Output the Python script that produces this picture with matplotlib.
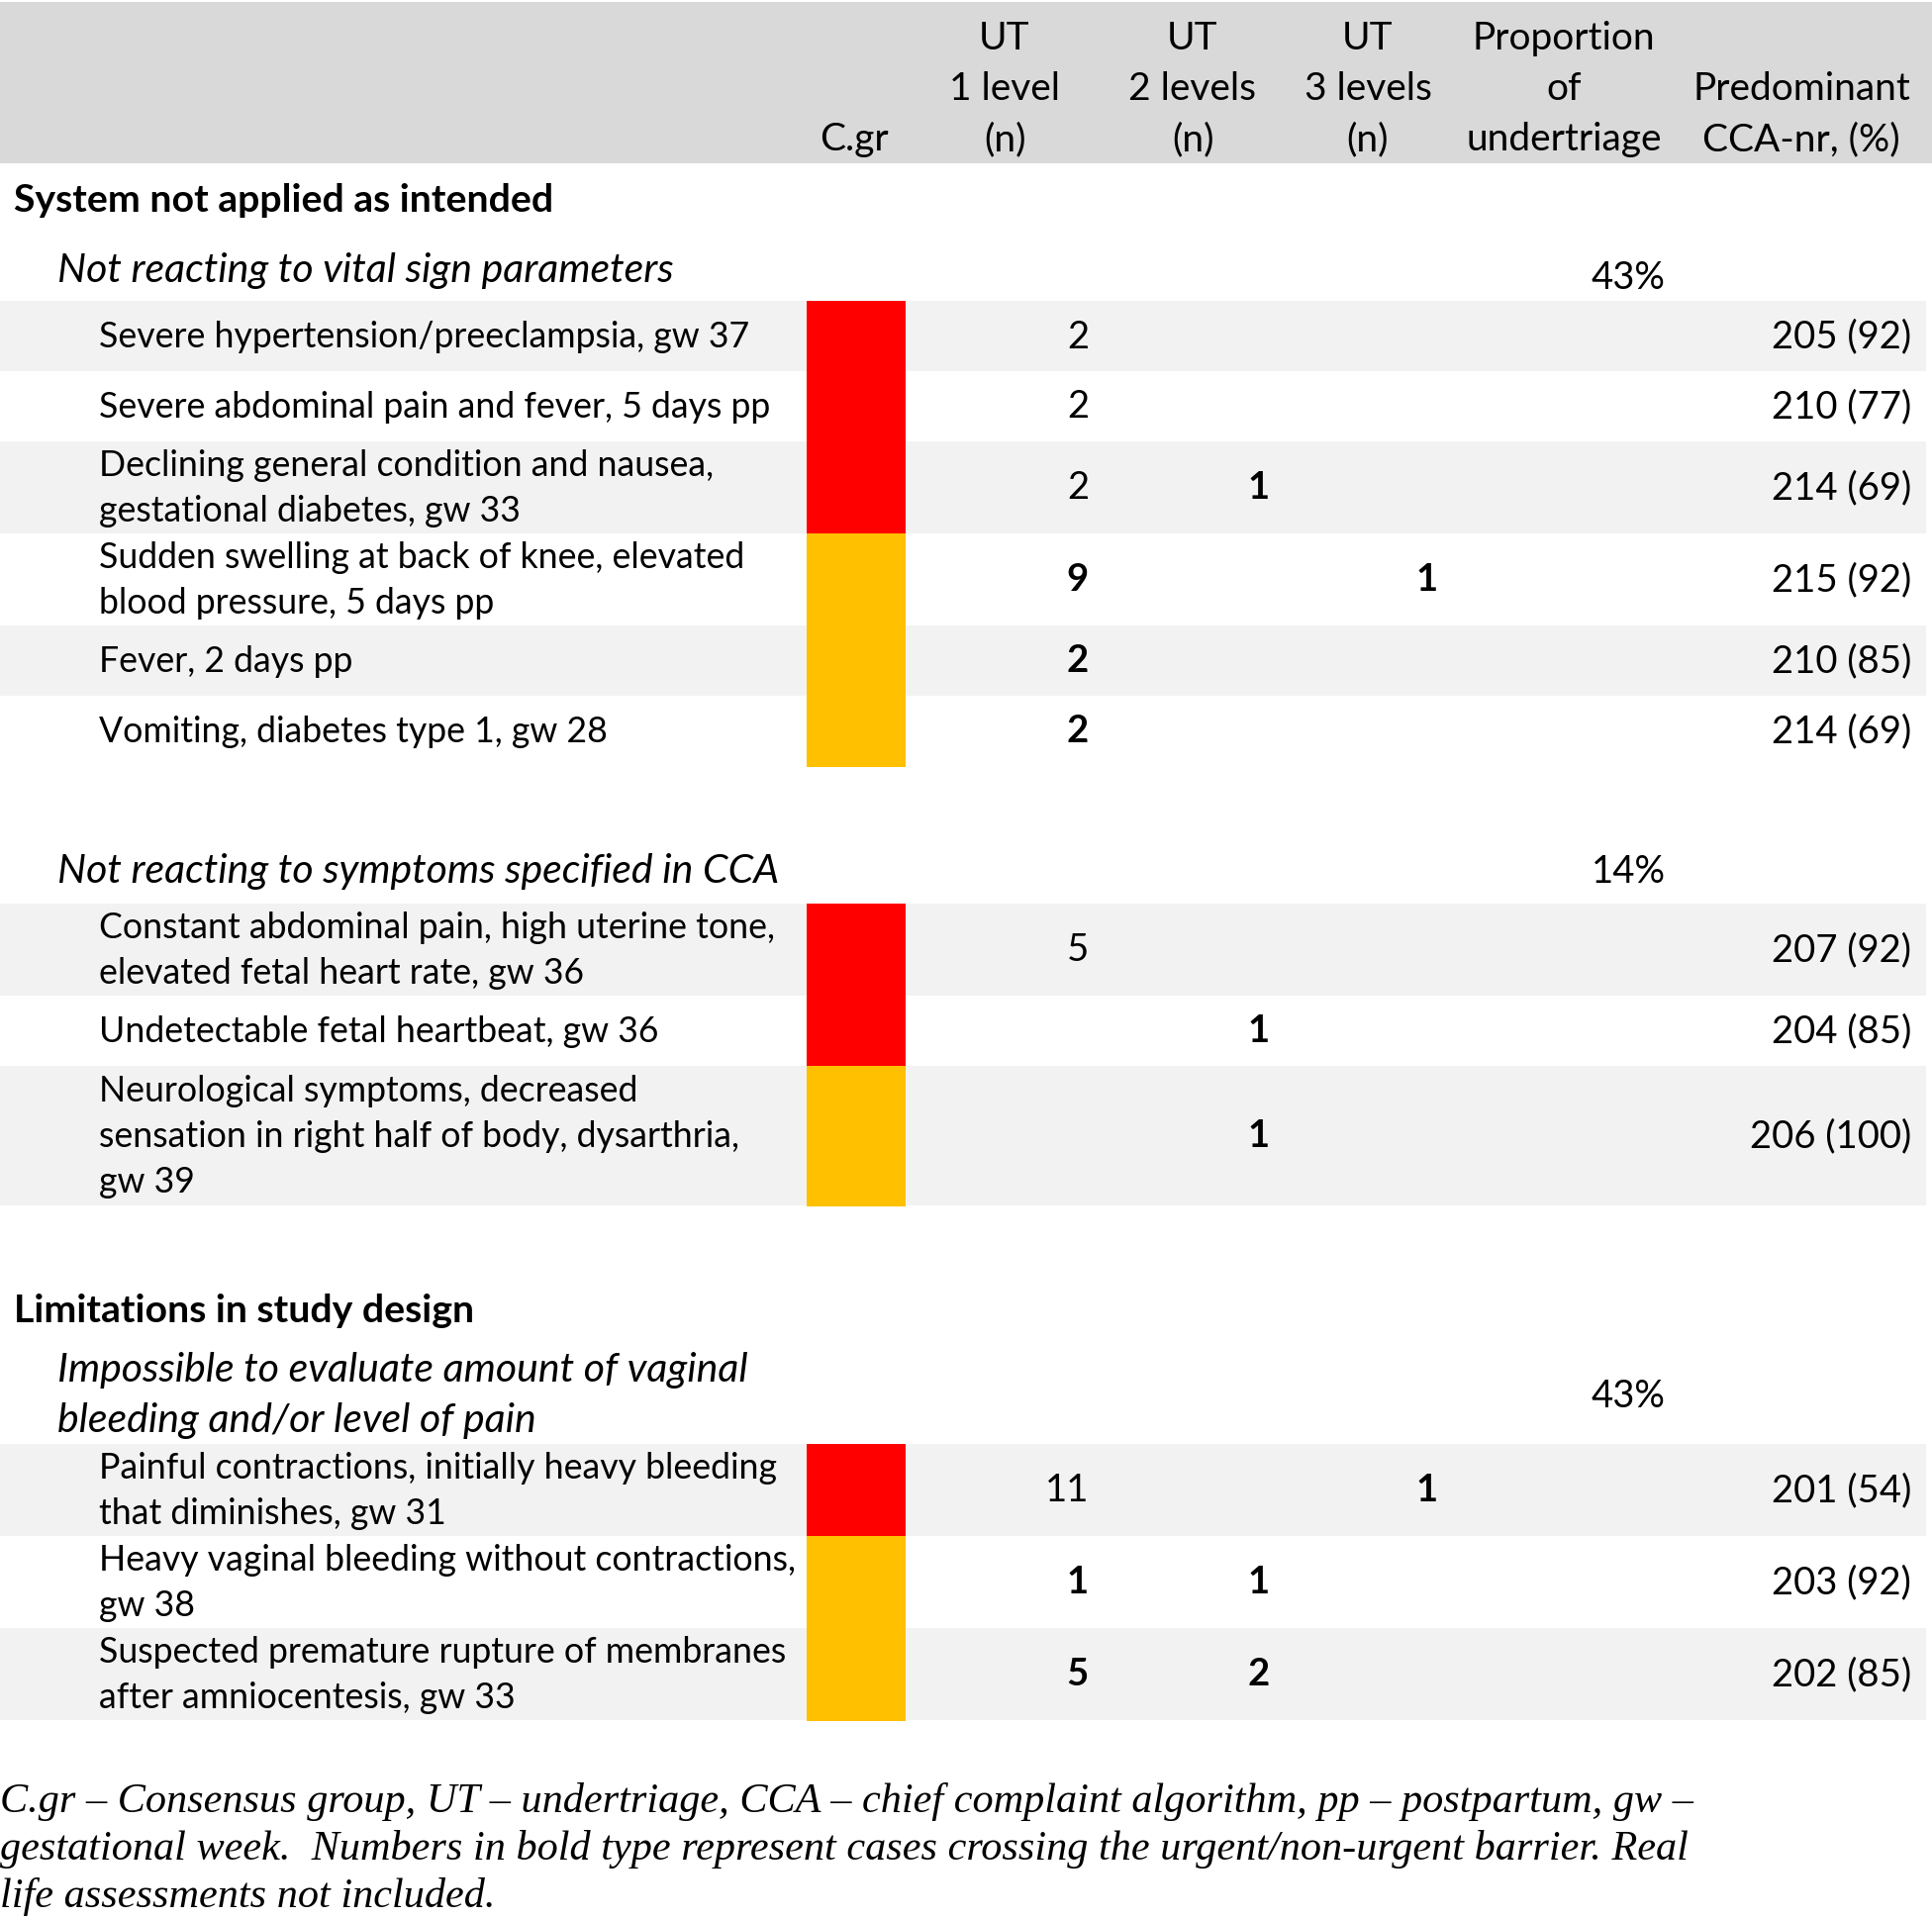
import matplotlib.pyplot as plt
from matplotlib.patches import Rectangle

# table content
columns = ["C.gr", "UT\n1 level\n(n)", "UT\n2 levels\n(n)", "UT\n3 levels\n(n)",
           "Proportion\nof\nundertriage", "Predominant\nCCA-nr, (%)"]

sections = ["System not applied as intended", None, "Limitations in study design"]
subgroups = ["Not reacting to vital sign parameters",
             "Not reacting to symptoms specified in CCA",
             "Impossible to evaluate amount of vaginal\nbleeding and/or level of pain"]
proportions = ["43%", "14%", "43%"]
group_of_case = [0, 0, 0, 0, 0, 0, 1, 1, 1, 2, 2, 2]

cases = [
    "Severe hypertension/preeclampsia, gw 37",
    "Severe abdominal pain and fever, 5 days pp",
    "Declining general condition and nausea,\ngestational diabetes, gw 33",
    "Sudden swelling at back of knee, elevated\nblood pressure, 5 days pp",
    "Fever, 2 days pp",
    "Vomiting, diabetes type 1, gw 28",
    "Constant abdominal pain, high uterine tone,\nelevated fetal heart rate, gw 36",
    "Undetectable fetal heartbeat, gw 36",
    "Neurological symptoms, decreased\nsensation in right half of body, dysarthria,\ngw 39",
    "Painful contractions, initially heavy bleeding\nthat diminishes, gw 31",
    "Heavy vaginal bleeding without contractions,\ngw 38",
    "Suspected premature rupture of membranes\nafter amniocentesis, gw 33",
]
consensus = ["red", "red", "red", "orange", "orange", "orange",
             "red", "red", "orange", "red", "orange", "orange"]
ut1 = [2, 2, 2, 9, 2, 2, 5, None, None, 11, 1, 5]
ut2 = [None, None, 1, None, None, None, None, 1, 1, None, 1, 2]
ut3 = [None, None, None, 1, None, None, None, None, None, 1, None, None]
# bold = case crossing the urgent/non-urgent barrier
ut1_bold = [False, False, False, True, True, True, False, False, False, False, True, True]
ut2_bold = [False, False, True, False, False, False, False, True, True, False, True, True]
ut3_bold = [False, False, False, True, False, False, False, False, False, True, False, False]
cca = ["205 (92)", "210 (77)", "214 (69)", "215 (92)", "210 (85)", "214 (69)",
       "207 (92)", "204 (85)", "206 (100)", "201 (54)", "203 (92)", "202 (85)"]

footnote = ("C.gr \u2013 Consensus group, UT \u2013 undertriage, CCA \u2013 chief complaint algorithm, pp \u2013 postpartum, gw \u2013\n"
            "gestational week.  Numbers in bold type represent cases crossing the urgent/non-urgent barrier. Real\n"
            "life assessments not included.")

cgr_colors = {"red": "#ff0000", "orange": "#ffc000"}
FONT = "Lato"
FS = 25.7      # case labels
FS_NUM = 27.5  # numbers
FS_HEAD = 28

W, H = 1952, 1940
fig = plt.figure(figsize=(W / 100, H / 100), dpi=100)
ax = fig.add_axes([0, 0, 1, 1])
ax.set_xlim(0, W)
ax.set_ylim(H, 0)
ax.axis("off")


def lines_at(x, yc, text, step=46, fs=FS, **kw):
    parts = text.split("\n")
    y0 = yc - step * (len(parts) - 1) / 2
    for i, p in enumerate(parts):
        ax.text(x, y0 + i * step, p, va="center", family=FONT, fontsize=fs, **kw)


# header
ax.add_patch(Rectangle((0, 3), W, 163, color="#d9d9d9", lw=0))
col_x = [863, 1015, 1205, 1382, 1580, 1820]
for x, lab in zip(col_x, columns):
    parts = lab.split("\n")
    for i, p in enumerate(parts):
        ax.text(x, 141 - 51 * (len(parts) - 1 - i), p, ha="center", va="center",
                family=FONT, fontsize=FS_HEAD)

section_y = {0: 202, 2: 1325}
subgroup_y = [273, 881, 1410]
prop_y = [281, 881, 1411]
row_start = [305, 914, 1460]

for g in range(3):
    if sections[g]:
        ax.text(14, section_y[g], sections[g], va="center", family=FONT,
                fontsize=28.3, weight="bold")
    lines_at(58, subgroup_y[g], subgroups[g], step=51, fs=29.5, style="italic")
    ax.text(1645, prop_y[g], proportions[g], ha="center", va="center",
            family=FONT, fontsize=FS_NUM)
    y = row_start[g]
    k = 0
    for i in range(len(cases)):
        if group_of_case[i] != g:
            continue
        n = cases[i].count("\n") + 1
        h = {1: 71, 2: 93, 3: 141}[n]
        if k % 2 == 0:
            ax.add_patch(Rectangle((0, y), 1946, h, color="#f2f2f2", lw=0))
        ax.add_patch(Rectangle((815, y), 100, h + 0.5, color=cgr_colors[consensus[i]], lw=0))
        yc = y + h / 2
        lines_at(100, yc, cases[i])
        for vals, bolds, xr in ((ut1, ut1_bold, 1100), (ut2, ut2_bold, 1283), (ut3, ut3_bold, 1453)):
            if vals[i] is not None:
                ax.text(xr, yc, str(vals[i]), ha="right", va="center", family=FONT,
                        fontsize=FS_NUM, weight="bold" if bolds[i] else "normal")
        ax.text(1931, yc, cca[i], ha="right", va="center", family=FONT, fontsize=FS_NUM)
        y += h
        k += 1

for i, line in enumerate(footnote.split("\n")):
    ax.text(0, 1821 + 48 * i, line, va="center", family="Liberation Serif",
            style="italic", fontsize=30.4)

fig.savefig("out.png", dpi=100)
